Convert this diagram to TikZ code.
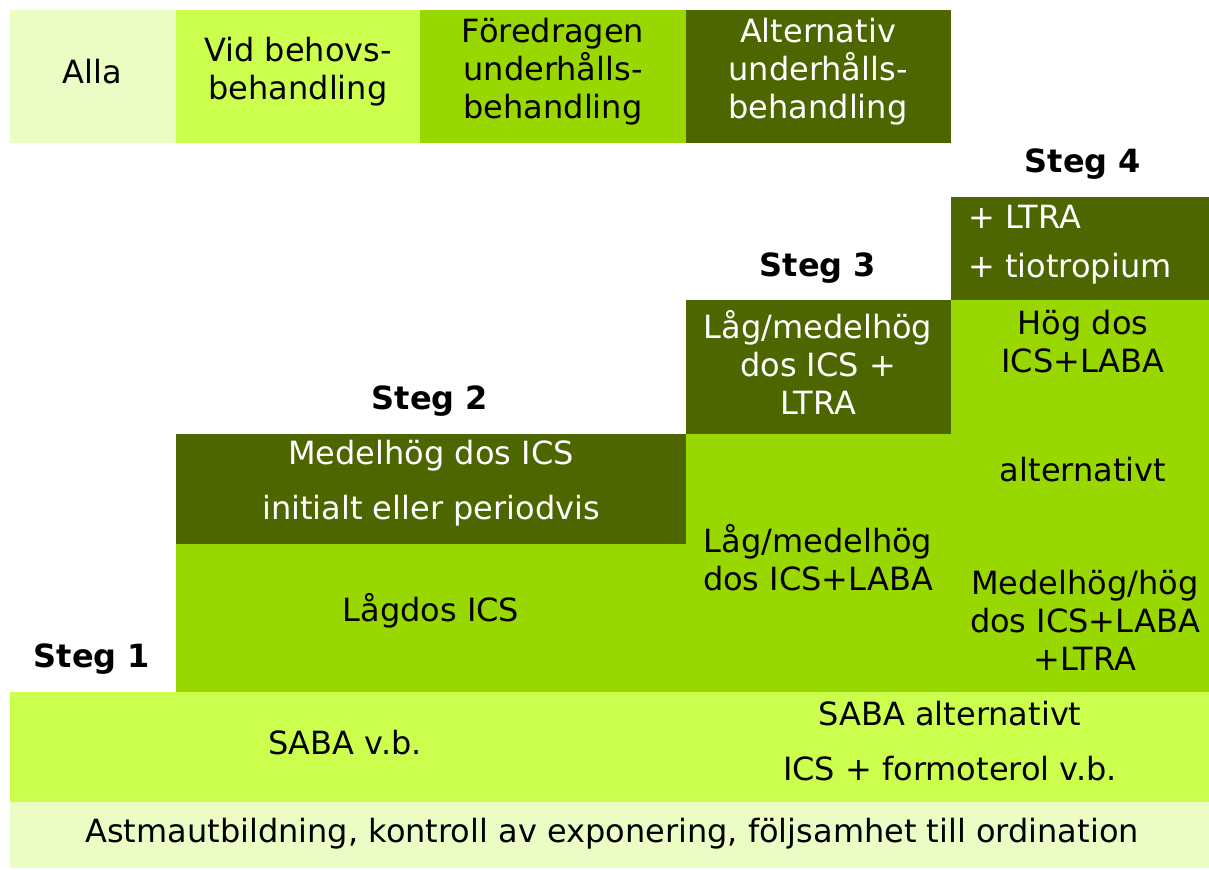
\documentclass[tikz,border=0pt]{standalone}
\usepackage{fontspec}
\setmainfont{DejaVu Sans}
\usetikzlibrary{positioning}
\definecolor{pale}{HTML}{EBFDC5}
\definecolor{lime}{HTML}{CCFF4D}
\definecolor{leaf}{HTML}{99D700}
\definecolor{olive}{HTML}{4D6600}
\tikzset{
	txt/.style={font=\fontsize{24}{28.5}\selectfont, align=center, inner sep=0pt},
	inv/.style={txt, text=white},
	steglabel/.style={font=\fontsize{24}{28.5}\selectfont\bfseries, inner sep=0pt},
}
\begin{document}
\begin{tikzpicture}[x=0.75pt, y=-0.75pt]
	\useasboundingbox (0,0) rectangle (1209,869);

	% legend row
	\fill[pale] (10,10) rectangle (176,143);
	\fill[lime] (176,10) rectangle (420,143);
	\fill[leaf] (420,10) rectangle (686,143);
	\fill[olive] (686,10) rectangle (951,143);
	\node (alla) [txt] at (92,72) {Alla};
	\node (vidbehov) [txt] at (298,72) {Vid behovs-\\behandling};
	\node (foredragen) [txt] at (553,72) {Föredragen\\underhålls-\\behandling};
	\node (alternativ) [inv] at (818,72) {Alternativ\\underhålls-\\behandling};

	% steps
	\fill[olive] (951,197) rectangle (1209,300);
	\fill[olive] (686,300) rectangle (951,434);
	\fill[leaf] (951,300) rectangle (1209,692);
	\fill[olive] (176,434) rectangle (686,544);
	\fill[leaf] (686,434) rectangle (951,692);
	\fill[leaf] (176,544) rectangle (686,692);
	\fill[lime] (10,692) rectangle (1209,802);
	\fill[pale] (10,802) rectangle (1209,868);

	\node (steg4) [steglabel] at (1083,164) {Steg 4};
	\node (ltra) [inv, anchor=west] at (968,217) {+ LTRA};
	\node (tiotropium) [inv, anchor=west] at (968,269) {+ tiotropium};
	\node (steg3) [steglabel] at (818,268) {Steg 3};
	\node (lagltra) [inv] at (818,362) {Låg/medelhög\\dos ICS +\\LTRA};
	\node (hogdos) [txt] at (1083,342) {Hög dos\\ICS+LABA};
	\node (alt) [txt] at (1083,470) {alternativt};
	\node (medelhoghog) [txt] at (1085,620) {Medelhög/hög\\dos ICS+LABA\\+LTRA};
	\node (steg2) [steglabel] at (430,401) {Steg 2};
	\node (medelhog) [inv] at (431,456) {Medelhög dos ICS};
	\node (initialt) [inv] at (431,511) {initialt eller periodvis};
	\node (lagdos) [txt] at (431,611) {Lågdos ICS};
	\node (laglaba) [txt] at (818,558) {Låg/medelhög\\dos ICS+LABA};
	\node (steg1) [steglabel] at (92,659) {Steg 1};

	% bottom rows
	\node (saba) [txt] at (345,743) {SABA v.b.};
	\node (sabaalt) [txt] at (950,714) {SABA alternativt};
	\node (formoterol) [txt] at (950,769) {ICS + formoterol v.b.};
	\node (utbildning) [txt] at (612,834) {Astmautbildning, kontroll av exponering, följsamhet till ordination};
\end{tikzpicture}
\end{document}
